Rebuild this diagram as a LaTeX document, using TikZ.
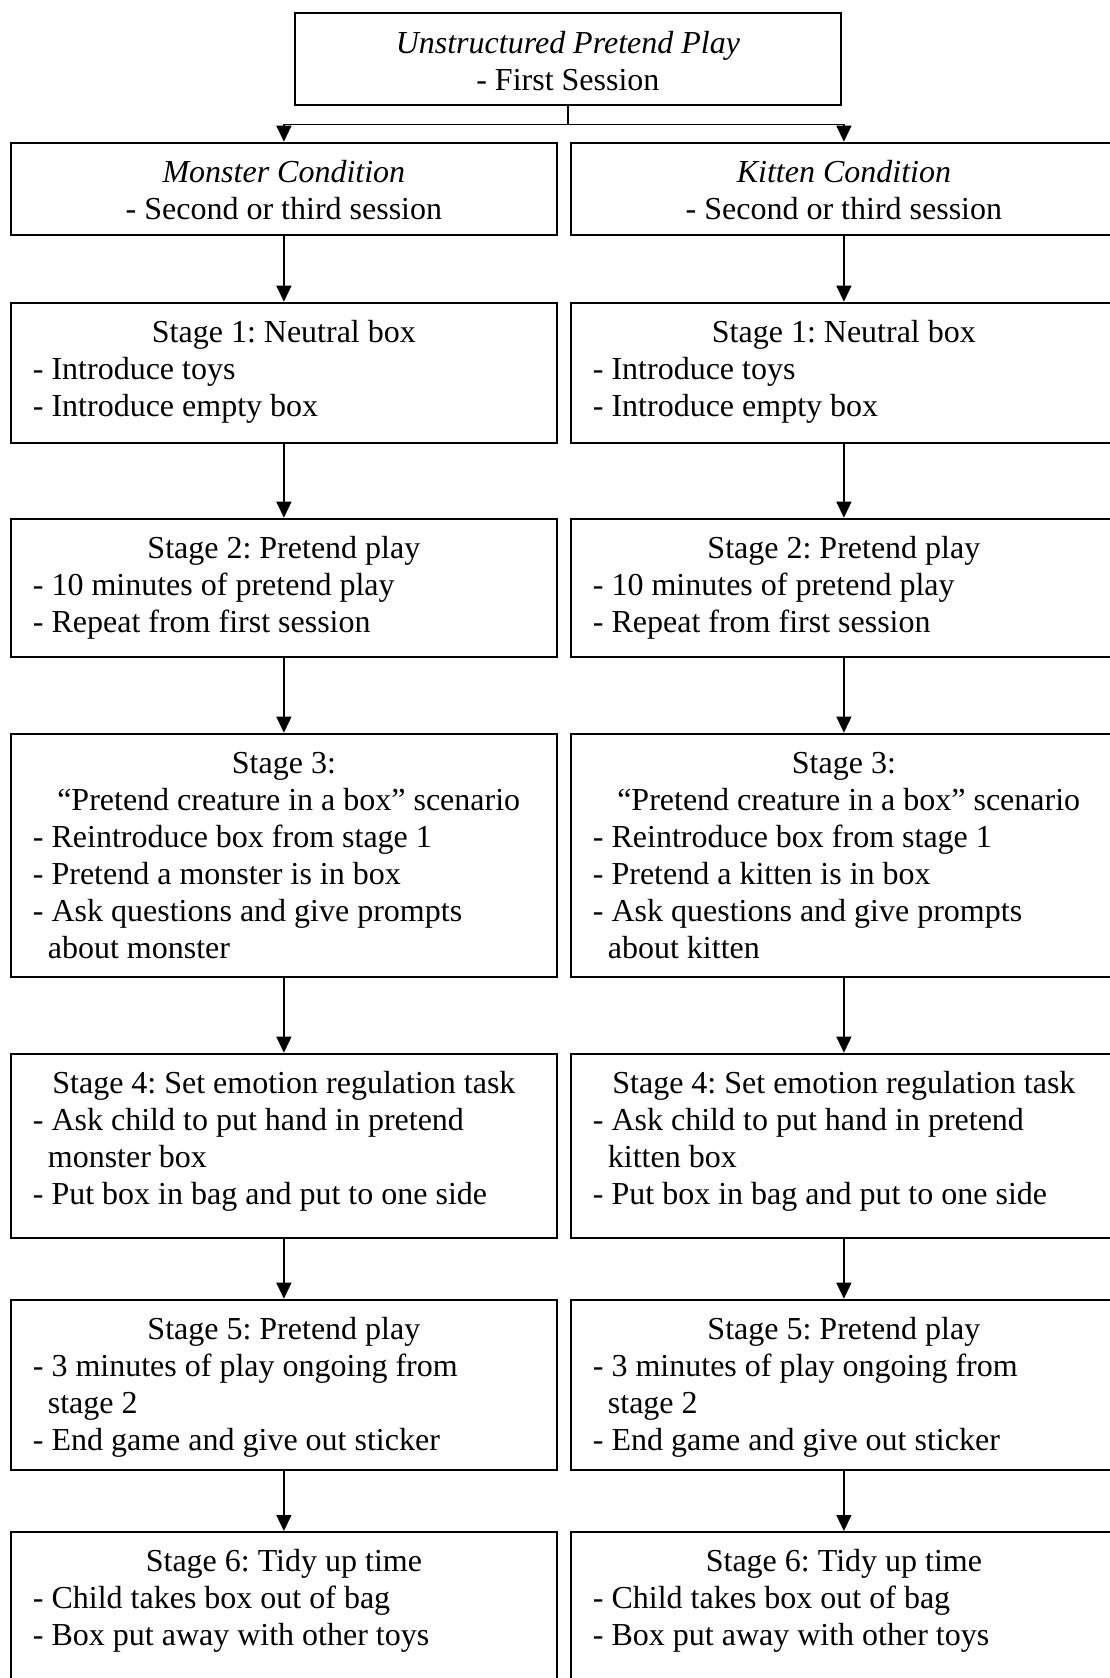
\documentclass[tikz,border=0pt]{standalone}
\usepackage{fontspec}
\setmainfont{Liberation Serif}
\usetikzlibrary{arrows.meta,calc}
\frenchspacing
\tikzset{
  flowbox/.style={draw, line width=1.8pt, rectangle, anchor=north west,
    inner xsep=22pt, inner ysep=0pt, text height=40pt,
    font=\fontsize{32}{37}\selectfont},
  conn/.style={line width=1.3pt},
  arr/.style={line width=1.3pt, -{Triangle[length=16pt,width=15pt]}},
}
\newcommand{\boxtext}[1]{\begin{minipage}[t]{502pt}\frenchspacing\raggedright #1\end{minipage}}
\newcommand{\ctr}[1]{\makebox[\linewidth]{#1}}
\newcommand{\cont}{\hspace*{15pt}}
\begin{document}
\begin{tikzpicture}[x=1pt,y=-1pt]
\clip (0,0) rectangle (1110,1678);
% top
\node[flowbox, text depth=51.7pt] (top) at (294,12.3)
  {\boxtext{\ctr{\itshape Unstructured Pretend Play}\\ \ctr{- First Session}}};
% conditions
\node[flowbox, text depth=52.3pt] (mc) at (10,141.7)
  {\boxtext{\ctr{\itshape Monster Condition}\\ \ctr{- Second or third session}}};
\node[flowbox, text depth=52.3pt] (kc) at (570,141.7)
  {\boxtext{\ctr{\itshape Kitten Condition}\\ \ctr{- Second or third session}}};
% stage 1
\node[flowbox, text depth=100.3pt] (m1) at (10,301.7)
  {\boxtext{\ctr{Stage 1: Neutral box}\\ - Introduce toys\\ - Introduce empty box}};
\node[flowbox, text depth=100.3pt] (k1) at (570,301.7)
  {\boxtext{\ctr{Stage 1: Neutral box}\\ - Introduce toys\\ - Introduce empty box}};
% stage 2
\node[flowbox, text depth=98.3pt] (m2) at (10,517.7)
  {\boxtext{\ctr{Stage 2: Pretend play}\\ - 10 minutes of pretend play\\ - Repeat from first session}};
\node[flowbox, text depth=98.3pt] (k2) at (570,517.7)
  {\boxtext{\ctr{Stage 2: Pretend play}\\ - 10 minutes of pretend play\\ - Repeat from first session}};
% stage 3
\node[flowbox, text depth=203.6pt] (m3) at (10,732.7)
  {\boxtext{\ctr{Stage 3:}\\ \ctr{\hspace*{9.6pt}“Pretend creature in a box” scenario}\\ - Reintroduce box from stage 1\\ - Pretend a monster is in box\\ - Ask questions and give prompts\\ \cont about monster}};
\node[flowbox, text depth=203.6pt] (k3) at (570,732.7)
  {\boxtext{\ctr{Stage 3:}\\ \ctr{\hspace*{9.6pt}“Pretend creature in a box” scenario}\\ - Reintroduce box from stage 1\\ - Pretend a kitten is in box\\ - Ask questions and give prompts\\ \cont about kitten}};
% stage 4
\node[flowbox, text depth=144.3pt] (m4) at (10,1052.7)
  {\boxtext{\ctr{Stage 4: Set emotion regulation task}\\ - Ask child to put hand in pretend\\ \cont monster box\\ - Put box in bag and put to one side}};
\node[flowbox, text depth=144.3pt] (k4) at (570,1052.7)
  {\boxtext{\ctr{Stage 4: Set emotion regulation task}\\ - Ask child to put hand in pretend\\ \cont kitten box\\ - Put box in bag and put to one side}};
% stage 5
\node[flowbox, text depth=130pt] (m5) at (10,1298.7)
  {\boxtext{\ctr{Stage 5: Pretend play}\\ - 3 minutes of play ongoing from\\ \cont stage 2\\ - End game and give out sticker}};
\node[flowbox, text depth=130pt] (k5) at (570,1298.7)
  {\boxtext{\ctr{Stage 5: Pretend play}\\ - 3 minutes of play ongoing from\\ \cont stage 2\\ - End game and give out sticker}};
% stage 6
\node[flowbox, text depth=160pt] (m6) at (10,1531)
  {\boxtext{\ctr{Stage 6: Tidy up time}\\ - Child takes box out of bag\\ - Box put away with other toys}};
\node[flowbox, text depth=160pt] (k6) at (570,1531)
  {\boxtext{\ctr{Stage 6: Tidy up time}\\ - Child takes box out of bag\\ - Box put away with other toys}};
% connectors
\coordinate (jn) at ($(top.south)+(0,18.7)$);
\draw[conn] (top.south) -- (jn);
\draw[conn, line width=1.8pt] (mc.north |- jn) -- (kc.north |- jn);
\draw[arr] (jn) -| (mc.north);
\draw[arr] (jn) -| (kc.north);
\foreach \a/\b in {mc/m1,m1/m2,m2/m3,m3/m4,m4/m5,m5/m6,kc/k1,k1/k2,k2/k3,k3/k4,k4/k5,k5/k6}
  \draw[arr] (\a) -- (\b);
\end{tikzpicture}
\end{document}
